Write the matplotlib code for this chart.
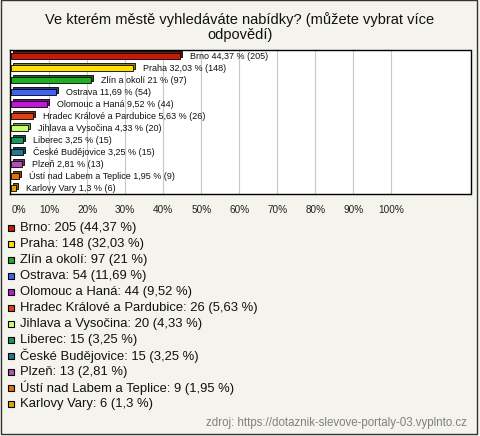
import matplotlib
matplotlib.use("Agg")
import matplotlib.pyplot as plt
import matplotlib.transforms as mtransforms
from matplotlib.patches import Rectangle
import numpy as np

plt.rcParams['font.family'] = ['Liberation Sans', 'DejaVu Sans']

title = "Ve kterém městě vyhledáváte nabídky? (můžete vybrat více\nodpovědí)"
categories = ["Brno", "Praha", "Zlín a okolí", "Ostrava", "Olomouc a Haná",
              "Hradec Králové a Pardubice", "Jihlava a Vysočina", "Liberec",
              "České Budějovice", "Plzeň", "Ústí nad Labem a Teplice", "Karlovy Vary"]
counts = [205, 148, 97, 54, 44, 26, 20, 15, 15, 13, 9, 6]
percents = [44.37, 32.03, 21, 11.69, 9.52, 5.63, 4.33, 3.25, 3.25, 2.81, 1.95, 1.3]
colors = ["#c41a0a", "#ffe000", "#1fb01f", "#3c64f0", "#c018d8", "#e04010",
          "#c8ff70", "#189860", "#207890", "#b050b8", "#e07010", "#e0a800"]
tick_values = [0, 10, 20, 30, 40, 50, 60, 70, 80, 90, 100]
tick_labels = ["0%", "10%", "20%", "30%", "40%", "50%", "60%", "70%", "80%", "90%", "100%"]
source = "zdroj: https://dotaznik-slevove-portaly-03.vyplnto.cz"

def fmt(v):
    s = ("%g" % v).replace(".", ",")
    return s

def darker(c, f=0.6):
    rgb = np.array(matplotlib.colors.to_rgb(c))
    return tuple(rgb * f)

W, H = 480, 436
fig = plt.figure(figsize=(W / 100, H / 100), dpi=100)
bg = "#f4f3ec"
fig.patch.set_facecolor(bg)

# overlay axes in pixel coordinates
ov = fig.add_axes([0, 0, 1, 1])
ov.set_xlim(0, W)
ov.set_ylim(H, 0)
ov.axis("off")
ov.patch.set_alpha(0)
ov.add_patch(Rectangle((0.5, 0.5), 476.5, 433.5, fill=False, edgecolor="#333333", lw=1.0))
ov.text(240, 27, title, ha="center", va="center", fontsize=10.5, color="#111111",
        linespacing=1.05)

# main chart
ax = fig.add_axes([10 / W, 1 - 194.3 / H, (470.5 - 10) / W, (194.3 - 50) / H])
ax.set_zorder(2)
ax.set_facecolor("white")
ax.set_xlim(-0.3, 120.8)
n = len(categories)
ax.set_ylim(n - 0.5, -0.5)
for sp in ax.spines.values():
    sp.set_color("black")
    sp.set_linewidth(1.0)
ax.set_yticks([])
ax.set_xticks(tick_values)
ax.set_xticklabels(tick_labels, fontsize=7.2, color="#222222")
ax.get_xticklabels()[0].set_ha("left")
ax.tick_params(axis="x", length=0, pad=8)
for v in tick_values[1:]:
    ax.axvline(v, color="#c8c8c8", lw=0.8, zorder=0)

y = np.arange(n)
h = 0.48
back = mtransforms.offset_copy(ax.transData, fig=fig, x=2, y=2, units="dots")
ax.barh(y, percents, height=h, left=0, color=[darker(c) for c in colors],
        edgecolor="black", lw=0.6, transform=back, zorder=2)
ax.barh(y, percents, height=h, left=0, color=colors, edgecolor="black", lw=0.6, zorder=3)

lab_tr = mtransforms.offset_copy(ax.transData, fig=fig, x=10, y=0, units="dots")
for yi, cat, p, c in zip(y, categories, percents, counts):
    ax.text(p, yi, "%s %s %% (%d)" % (cat, fmt(p), c), transform=lab_tr,
            fontsize=6.5, va="center", ha="left", color="#111111", zorder=4)

# legend
for i, (cat, p, c, col) in enumerate(zip(categories, percents, counts, colors)):
    yy = 228 + 16 * i
    ov.add_patch(Rectangle((7.8, yy - 3.2), 5.8, 6.4, facecolor=col, edgecolor="black", lw=0.8))
    ov.text(20, yy, "%s: %d (%s %%)" % (cat, c, fmt(p)), fontsize=9.4, va="center",
            ha="left", color="#111111")

ov.text(467, 423, source, fontsize=8.3, ha="right", va="center", color="#808080")

fig.savefig("out.png", dpi=100, facecolor=bg)
